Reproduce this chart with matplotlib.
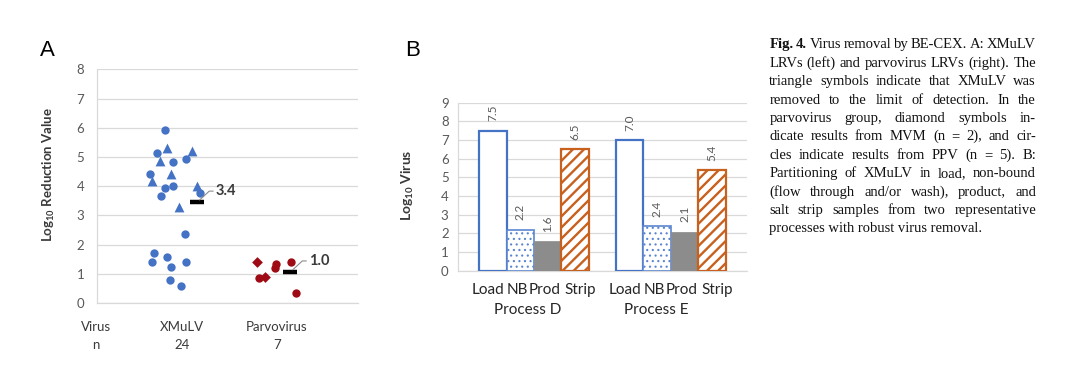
import numpy as np
import matplotlib
matplotlib.use('Agg')
import matplotlib.pyplot as plt
from matplotlib.transforms import blended_transform_factory

plt.rcParams['font.family'] = ['Lato', 'DejaVu Sans']
plt.rcParams['mathtext.fontset'] = 'custom'
plt.rcParams['mathtext.rm'] = 'Lato'
plt.rcParams['mathtext.bf'] = 'Lato:bold'
plt.rcParams['hatch.linewidth'] = 1.7

# ---- Panel A data (log10 reduction values) ----
group_names = ['XMuLV', 'Parvovirus']
group_n = ['24', '7']
xmulv_circles = [5.93, 5.15, 4.84, 4.92, 4.42, 3.94, 3.99, 3.65, 3.76, 2.37,
                 1.71, 1.39, 1.57, 1.23, 1.39, 0.80, 0.57]
xmulv_circles_jit = [-0.18, -0.26, -0.09, 0.04, -0.33, -0.18, -0.09, -0.22, 0.19, 0.03,
                     -0.29, -0.31, -0.15, -0.11, 0.05, -0.12, -0.01]
xmulv_triangles = [5.30, 5.22, 4.85, 4.42, 4.19, 3.99, 3.30]
xmulv_triangles_jit = [-0.16, 0.11, -0.23, -0.11, -0.31, 0.16, -0.03]
parvo_diamonds = [1.39, 0.88]
parvo_diamonds_jit = [-0.21, -0.12]
parvo_circles = [0.85, 1.34, 1.20, 1.39, 0.34]
parvo_circles_jit = [-0.19, -0.01, -0.02, 0.15, 0.20]
group_means = [3.45, 1.06]
mean_labels = ['3.4', '1.0']
mean_jit = [0.16, 0.14]

# ---- Panel B data (log10 virus) ----
fractions = ['Load', 'NB', 'Prod', 'Strip']
processes = ['Process D', 'Process E']
process_d = [7.5, 2.2, 1.6, 6.5]
process_e = [7.0, 2.4, 2.1, 5.4]

caption_lines = [
    'Fig. 4. Virus removal by BE-CEX. A: XMuLV',
    'LRVs (left) and parvovirus LRVs (right). The',
    'triangle symbols indicate that XMuLV was',
    'removed to the limit of detection. In the',
    'parvovirus group, diamond symbols in-',
    'dicate results from MVM (n = 2), and cir-',
    'cles indicate results from PPV (n = 5). B:',
    'Partitioning of XMuLV in load, non-bound',
    '(flow through and/or wash), product, and',
    'salt strip samples from two representative',
    'processes with robust virus removal.',
]

W, H = 1078, 376
blue = '#4472C4'
red = '#9E0B14'
orange = '#C8601E'
grid_c = '#D9D9D9'
tick_c = '#595959'
text_c = '#3a3a3a'

fig = plt.figure(figsize=(W / 100, H / 100), dpi=100)


def px_axes(l, r, b, t):
    return fig.add_axes([l / W, 1 - b / H, (r - l) / W, (b - t) / H])


# ================= Panel A =================
axA = px_axes(96.7, 358, 303, 69.3)
axA.set_xlim(0.105, 2.856)
axA.set_ylim(0, 8)
axA.set_yticks(range(0, 9))
axA.set_xticks([])
axA.grid(axis='y', color=grid_c, lw=0.9)
axA.set_axisbelow(True)
for s in ['top', 'right']:
    axA.spines[s].set_visible(False)
for s in ['left', 'bottom']:
    axA.spines[s].set_color(grid_c)
    axA.spines[s].set_linewidth(0.9)
axA.tick_params(axis='y', length=0, labelsize=9.5, labelcolor=tick_c, pad=9)

axA.scatter(1 + np.array(xmulv_circles_jit), xmulv_circles, s=36, marker='o',
            color=blue, zorder=3, linewidths=0)
axA.scatter(1 + np.array(xmulv_triangles_jit), xmulv_triangles, s=50, marker='^',
            color=blue, zorder=3, linewidths=0)
axA.scatter(2 + np.array(parvo_diamonds_jit), parvo_diamonds, s=30, marker='D',
            color=red, zorder=3, linewidths=0)
axA.scatter(2 + np.array(parvo_circles_jit), parvo_circles, s=36, marker='o',
            color=red, zorder=3, linewidths=0)

for i, (m, lab, j) in enumerate(zip(group_means, mean_labels, mean_jit)):
    x = i + 1 + j
    axA.plot([x], [m], marker='_', ms=10, mew=3.2, color='black', zorder=4)
    axA.plot([x + 0.03, x + 0.13, x + 0.17], [m + 0.08, m + 0.38, m + 0.38],
             color='#8c8c8c', lw=0.8, zorder=4)
    axA.text(x + 0.2, m + 0.38, lab, fontsize=10.5, fontweight='bold',
             color=text_c, va='center', ha='left')

trA = blended_transform_factory(axA.transData, axA.transAxes)
axA.text(0.095, -0.101, 'Virus', transform=trA, ha='center', va='center',
         fontsize=9.5, color=text_c)
axA.text(0.095, -0.18, 'n', transform=trA, ha='center', va='center',
         fontsize=9.5, color=text_c)
for i, (g, n) in enumerate(zip(group_names, group_n)):
    axA.text(i + 1, -0.101, g, transform=trA, ha='center', va='center',
             fontsize=9.5, color=text_c)
    axA.text(i + 1, -0.18, n, transform=trA, ha='center', va='center',
             fontsize=9.5, color=text_c)

fig.text(49.3 / W, 1 - 175 / H, r'Log$_{\mathbf{10}}$ Reduction Value', rotation=90,
         ha='center', va='center', fontsize=9.5, fontweight='bold', color=text_c)
fig.text(47.5 / W, 1 - 50 / H, 'A', ha='center', va='center', fontsize=16,
         family='Liberation Sans')

# ================= Panel B =================
axB = px_axes(458.3, 746.7, 270.7, 102.7)
axB.set_xlim(-1.26, 9.27)
axB.set_ylim(0, 9)
axB.set_yticks(range(0, 10))
axB.set_xticks([])
axB.grid(axis='y', color=grid_c, lw=0.9)
axB.set_axisbelow(True)
for s in ['top', 'right']:
    axB.spines[s].set_visible(False)
for s in ['left', 'bottom']:
    axB.spines[s].set_color(grid_c)
    axB.spines[s].set_linewidth(0.9)
axB.tick_params(axis='y', length=0, labelsize=9.5, labelcolor=tick_c, pad=7)

styles = [
    dict(facecolor='white', edgecolor=blue, linewidth=1.6),
    dict(facecolor='white', edgecolor='#5b85d0', linewidth=1.2, hatch='...'),
    dict(facecolor='#8C8C8C', edgecolor='#8C8C8C', linewidth=0.5),
    dict(facecolor='white', edgecolor=orange, linewidth=1.6, hatch='///'),
]
label_shift = [-0.17, -0.09, -0.11, 0.18]
process_shift = [-0.24, -0.55]
trB = blended_transform_factory(axB.transData, axB.transAxes)
for g, vals in enumerate([process_d, process_e]):
    xs = np.arange(len(fractions)) + g * 5
    for k, (x, v) in enumerate(zip(xs, vals)):
        b = axB.bar(x, v, width=1.0, zorder=3, **styles[k])[0]
        if k == 1 and hasattr(b, 'set_hatch_linewidth'):
            b.set_hatch_linewidth(0.8)
        axB.text(x, v + 0.5, f'{v:.1f}', rotation=90, ha='center', va='bottom',
                 fontsize=8.5, color=tick_c)
        axB.text(x + label_shift[k], -0.115, fractions[k], transform=trB,
                 ha='center', va='center', fontsize=11, color='#262626')
    axB.text(xs.mean() + process_shift[g], -0.234, processes[g], transform=trB,
             ha='center', va='center', fontsize=11, color='#262626')

fig.text(408 / W, 1 - 185 / H, r'Log$_{\mathbf{10}}$ Virus', rotation=90,
         ha='center', va='center', fontsize=10, fontweight='bold', color=text_c)
fig.text(412.5 / W, 1 - 50 / H, 'B', ha='center', va='center', fontsize=16,
         family='Liberation Sans')

# ================= Caption (justified) =================
cap_x0, cap_x1 = 769.3, 1036.0
cap_base0, cap_dy = 48.3, 18.4
cap_family = 'Liberation Serif'
cap_fs = 10.5
renderer = fig.canvas.get_renderer()

for i, line in enumerate(caption_lines):
    yb = 1 - (cap_base0 + i * cap_dy) / H
    if i == len(caption_lines) - 1:
        fig.text(cap_x0 / W, yb, line, fontsize=cap_fs, family=cap_family,
                 va='baseline', ha='left', color='#111111')
        continue
    words = line.split(' ')
    texts = []
    for j, w in enumerate(words):
        bold = (i == 0 and j < 2)
        t = fig.text(0, yb, w, fontsize=cap_fs, family=cap_family,
                     fontweight='bold' if bold else 'normal',
                     va='baseline', ha='left', color='#111111')
        texts.append(t)
    widths = [t.get_window_extent(renderer).width for t in texts]
    gap = (cap_x1 - cap_x0 - sum(widths)) / (len(words) - 1)
    x = cap_x0
    for t, wd in zip(texts, widths):
        t.set_x(x / W)
        x += wd + gap

fig.savefig('out.png', dpi=100)
